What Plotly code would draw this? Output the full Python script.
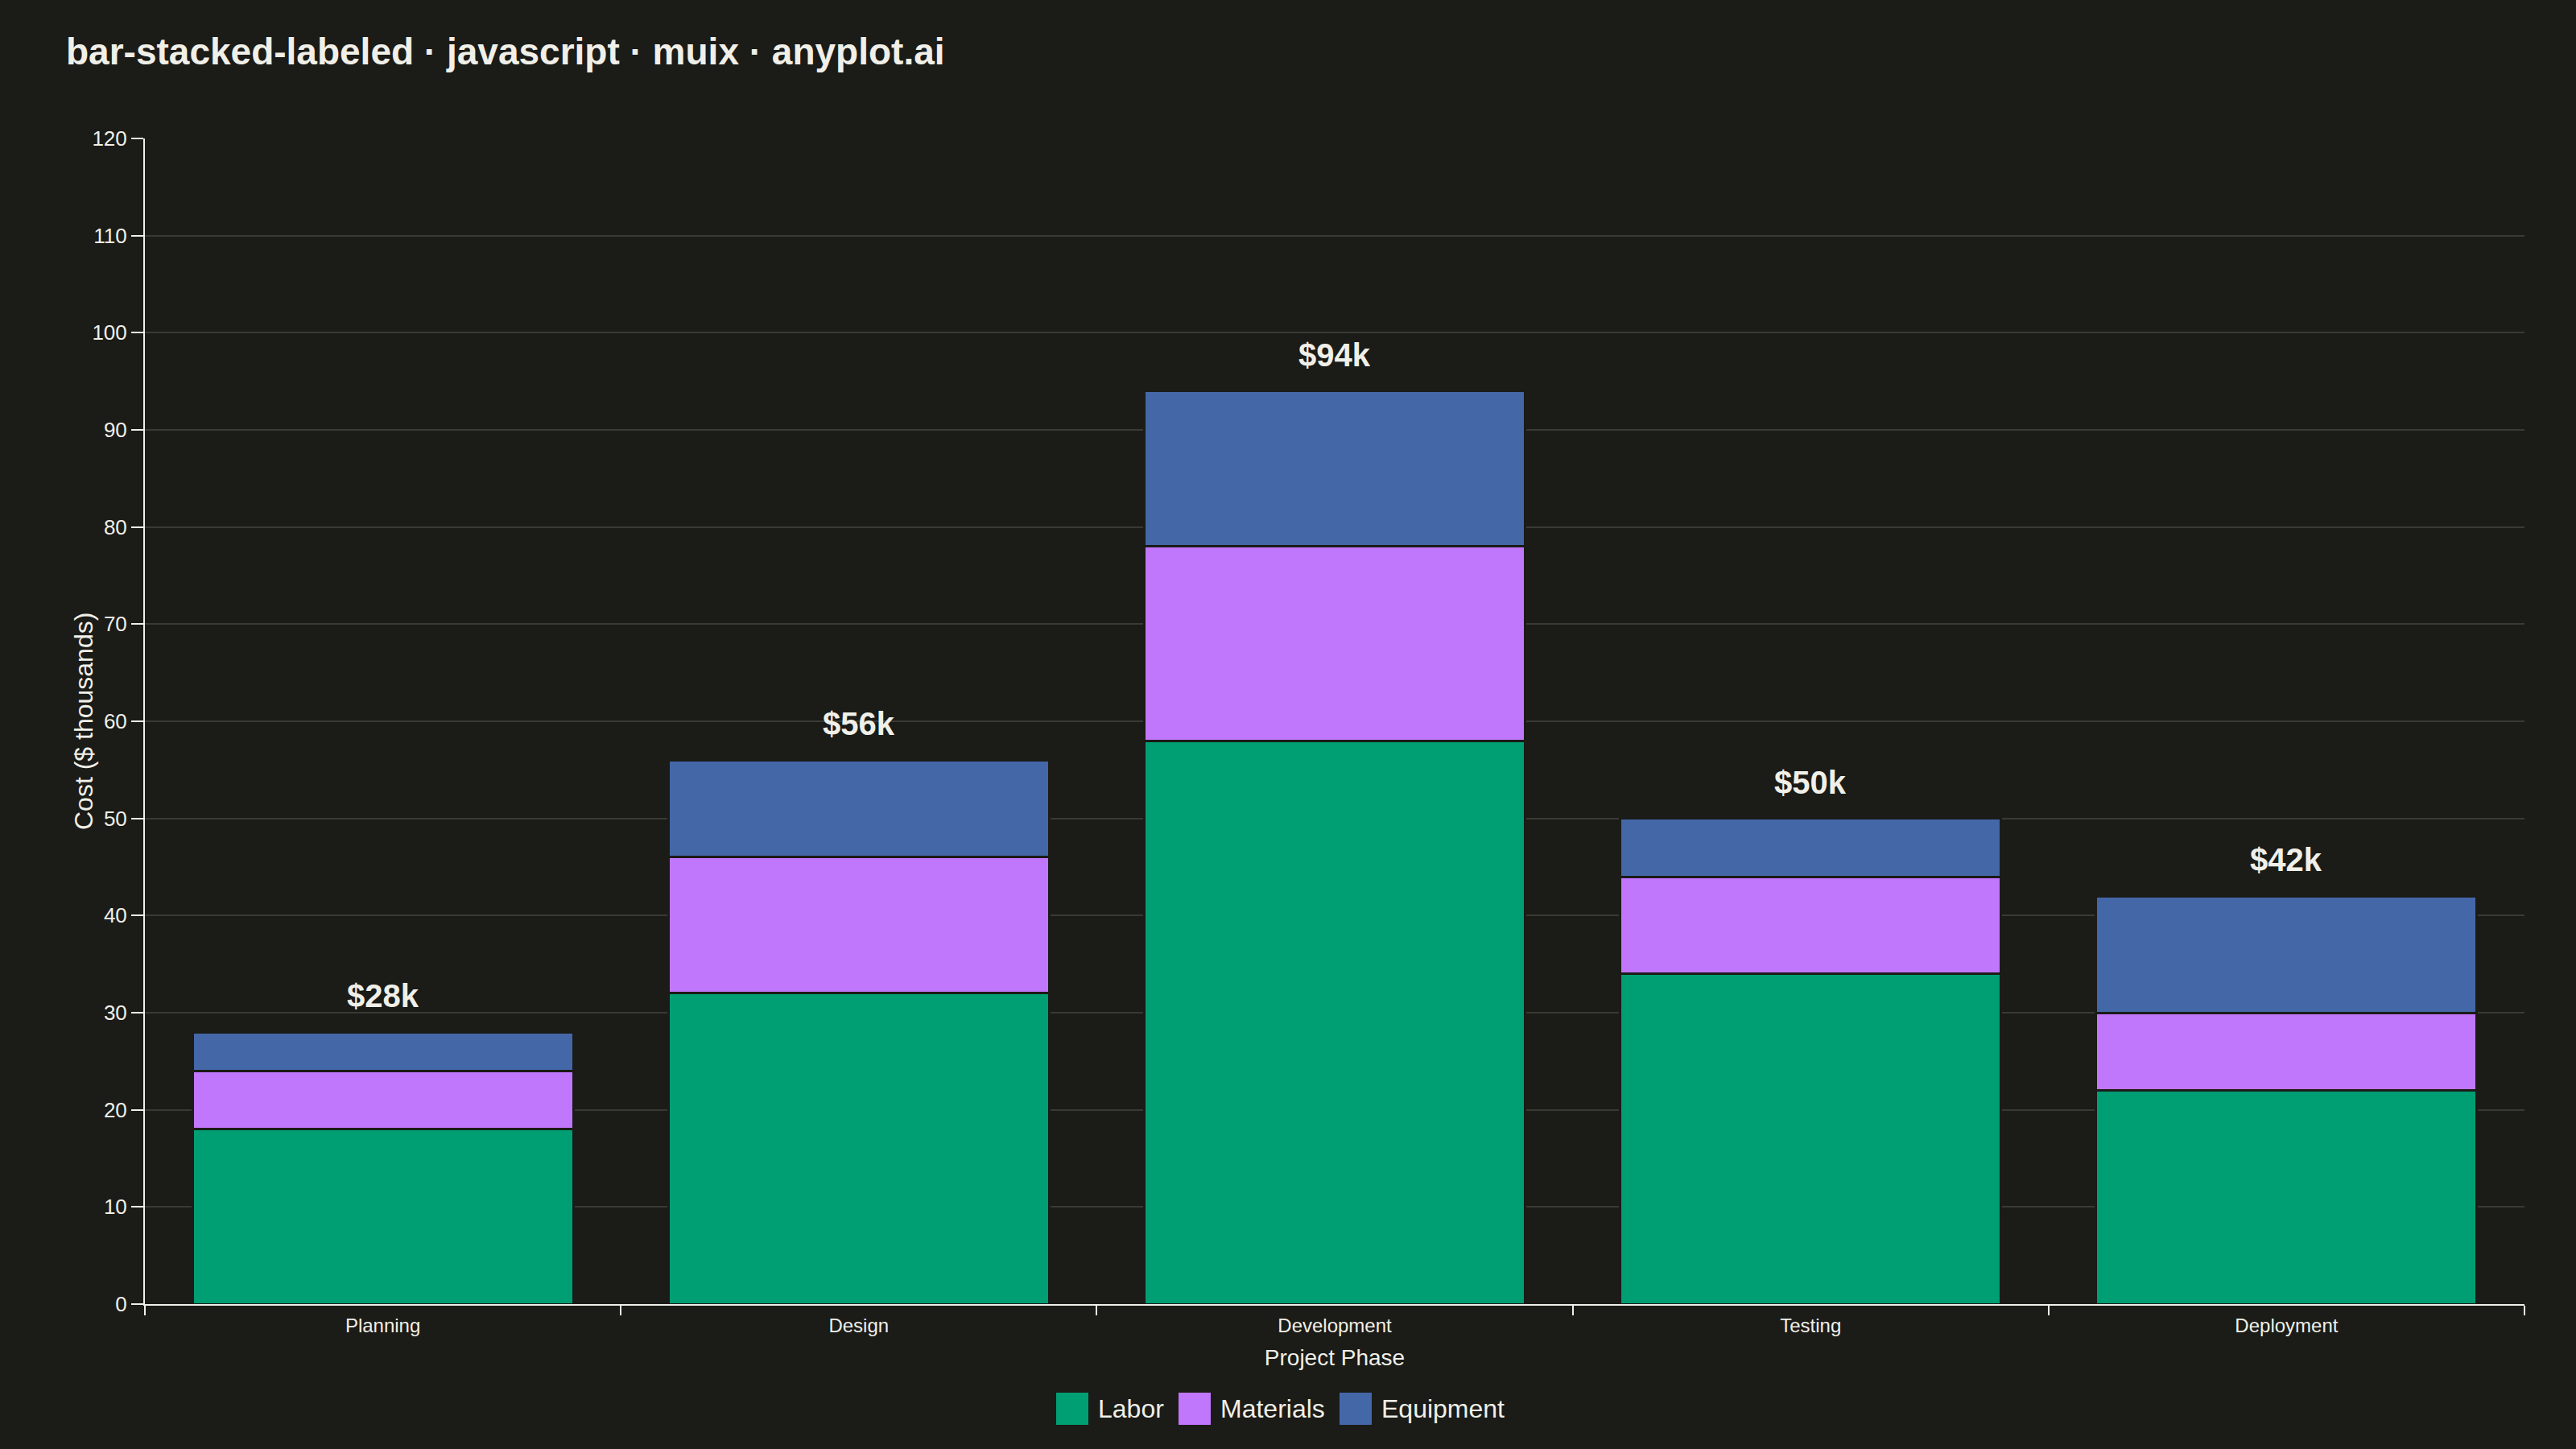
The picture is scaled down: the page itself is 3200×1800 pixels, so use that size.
#Stacked bar chart of project costs per phase, with totals labeled above each bar.

import plotly.graph_objects as go

#Data (in $ thousands)
phases = ['Planning', 'Design', 'Development', 'Testing', 'Deployment']
labor = [18, 32, 58, 34, 22]
materials = [6, 14, 20, 10, 8]
equipment = [4, 10, 16, 6, 12]

series_names = ['Labor', 'Materials', 'Equipment']
series_colors = ['#009E73', '#C077FB', '#4467A8']

bg = '#1B1B17'
ink = '#F0EFE8'
grid = '#3A3A35'
font = 'Liberation Sans, Arial, sans-serif'

#Figure geometry in pixels
W, H = 3200, 1800
L, R, T, B = 180, 64, 172, 180
pw, ph = W - L - R, H - T - B

fig = go.Figure()
for name, vals, color in zip(series_names, [labor, materials, equipment], series_colors):
    fig.add_trace(go.Bar(x=phases, y=vals, name=name,
                         marker=dict(color=color, line=dict(color=bg, width=3)),
                         showlegend=False))

#Totals above bars
totals = [a + b + c for a, b, c in zip(labor, materials, equipment)]
for p, t in zip(phases, totals):
    fig.add_annotation(x=p, y=t, text=f'<b>${t}k</b>', showarrow=False,
                       yanchor='bottom', yshift=21,
                       font=dict(size=40, color=ink, family=font))

#Y axis title placed by hand so it sits close to the tick labels
fig.add_annotation(xref='paper', yref='paper', x=(104 - L) / pw, y=0.5,
                   text='Cost ($ thousands)', textangle=-90, showarrow=False,
                   xanchor='center', yanchor='middle',
                   font=dict(size=32, color=ink, family=font))

#Legend drawn below the plot with big square swatches
legend_left = [1312, 1464, 1664]
legend_y = 1750
for name, color, xl in zip(series_names, series_colors, legend_left):
    fig.add_shape(type='rect', xref='paper', yref='paper',
                  x0=(xl - L) / pw, x1=(xl + 40 - L) / pw,
                  y0=(H - B - legend_y - 20) / ph, y1=(H - B - legend_y + 20) / ph,
                  fillcolor=color, line=dict(width=0))
    fig.add_annotation(xref='paper', yref='paper',
                       x=(xl + 50 - L) / pw, y=(H - B - legend_y) / ph,
                       text=name, showarrow=False, xanchor='left', yanchor='middle',
                       font=dict(size=32, color=ink, family=font))

fig.update_layout(
    width=W, height=H,
    paper_bgcolor=bg, plot_bgcolor=bg,
    barmode='stack', bargap=0.2,
    margin=dict(l=L, r=R, t=T, b=B),
    font=dict(family=font, color=ink),
    title=dict(text='<b>bar-stacked-labeled · javascript · muix · anyplot.ai</b>',
               x=82 / W, xref='container', xanchor='left',
               y=1 - 64 / H, yref='container', yanchor='middle',
               font=dict(size=46, color=ink, family=font)),
    xaxis=dict(title=dict(text='Project Phase', font=dict(size=28, color=ink), standoff=18),
               tickfont=dict(size=24, color=ink), ticklabelstandoff=4,
               showline=True, linecolor=ink, linewidth=2,
               ticks='outside', tickson='boundaries', ticklen=12, tickwidth=2, tickcolor=ink,
               showgrid=False),
    yaxis=dict(tickfont=dict(size=26, color=ink),
               range=[0, 120], dtick=10,
               showline=True, linecolor=ink, linewidth=2,
               ticks='outside', ticklen=15, tickwidth=2, tickcolor=ink,
               gridcolor=grid, gridwidth=2, zeroline=False),
)

fig.write_html("out.html", config={'displayModeBar': False},
               post_script="document.body.style.margin='0';")
